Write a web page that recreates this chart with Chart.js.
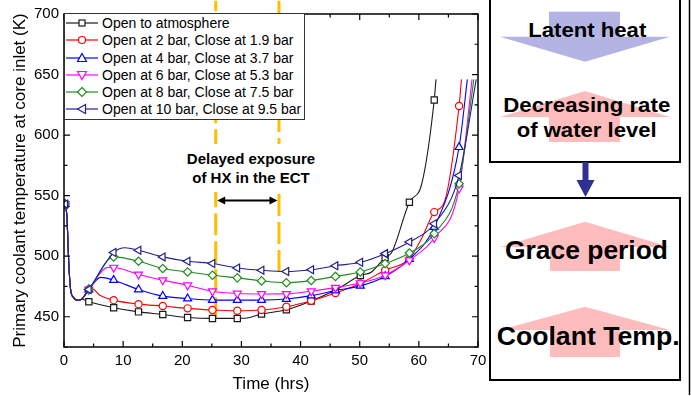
<!DOCTYPE html>
<html>
<head>
<meta charset="utf-8">
<script src="https://cdn.jsdelivr.net/npm/chart.js@4.4.1/dist/chart.umd.min.js"></script>
<style>
  html, body { margin: 0; padding: 0; background: #fff; }
  #wrap { position: relative; width: 691px; height: 396px; overflow: hidden; font-family: 'Liberation Sans', Arial, sans-serif; }
  #chart { position: absolute; left: 0; top: 0; }
  #legend { position: absolute; left: 64px; top: 13px; width: 241px; height: 107px; box-sizing: border-box;
            border: 1px solid #333; background: #fff; padding-top: 0.7px; }
  .row { display: flex; align-items: center; height: 17.2px; font-size: 14px; color: #000; white-space: nowrap; }
  .row svg { margin-left: 1px; margin-right: 4px; flex: none; }
  #note { position: absolute; left: 180px; top: 143.5px; width: 142px; padding: 5px 0; background: #fff;
          text-align: center; font-weight: bold; font-size: 15px; line-height: 19px; color: #000; }
  #panel { position: absolute; left: 484px; top: 0; }
</style>
</head>
<body>
<div id="wrap">
  <canvas id="chart" width="691" height="396"></canvas>
  <div id="legend"></div>
  <div id="note">Delayed exposure<br>of HX in the ECT</div>
  <svg id="panel" width="207" height="396" viewBox="484 0 207 396" font-family="'Liberation Sans', Arial, sans-serif" font-weight="bold">
    <rect x="490" y="-5" width="190" height="167" fill="#fff" stroke="#000" stroke-width="2"/>
    <rect x="549" y="11.7" width="71" height="25" fill="#b4b4e4"/>
    <polygon points="500,36.7 670,36.7 585,61.7" fill="#b4b4e4"/>
    <polygon points="585,91 670,117 500,117" fill="#ffbcbc"/>
    <rect x="549" y="117" width="71" height="25" fill="#ffbcbc"/>
    <text x="528.3" y="37" font-size="21" textLength="118" lengthAdjust="spacingAndGlyphs">Latent heat</text>
    <text x="503.3" y="112" font-size="21" textLength="167" lengthAdjust="spacingAndGlyphs">Decreasing rate</text>
    <text x="516.7" y="137" font-size="21" textLength="140" lengthAdjust="spacingAndGlyphs">of water level</text>

    <rect x="582.5" y="162" width="6" height="19" fill="#2e3192"/>
    <polygon points="576.5,180 594.5,180 585.5,197" fill="#2e3192"/>

    <rect x="490" y="198" width="190" height="182" fill="#fff" stroke="#000" stroke-width="2"/>
    <polygon points="585,221.7 670,247 500,247" fill="#ffbcbc"/>
    <rect x="550" y="247" width="70" height="24" fill="#ffbcbc"/>
    <polygon points="585,306.7 670,330 500,330" fill="#ffbcbc"/>
    <rect x="550" y="330" width="70" height="27" fill="#ffbcbc"/>
    <text x="505" y="259" font-size="26" textLength="163" lengthAdjust="spacingAndGlyphs">Grace period</text>
    <text x="496.7" y="345" font-size="26" textLength="183" lengthAdjust="spacingAndGlyphs">Coolant Temp.</text>

    <line x1="689.5" y1="0" x2="689.5" y2="395" stroke="#000" stroke-width="1.5"/>
  </svg>
</div>
<script>
// common initial transient (hrs, K)
const startTime = [0.2, 0.5, 0.8, 1.1, 1.6, 2.3, 3.0];
const startTemp = [543, 532, 495, 473, 466, 463.5, 464.5];

// times where markers are shown
const markTimes = [0.2, 4.2, 8.4, 12.6, 16.7, 20.9, 25.1, 29.3, 33.4, 37.6, 41.8, 45.9, 50.1, 54.3, 58.4, 62.6, 66.8];

const atmTime = [4.2, 8.4, 12.6, 16.7, 20.9, 25.1, 29.3, 31.0, 33.4, 37.6, 41.8, 45.9, 50.1, 52.0, 54.3, 55.4, 58.4, 60.5, 62.6, 62.9];
const atmTemp = [462.3, 457.4, 454.0, 451.9, 449.4, 448.6, 448.6, 449.0, 452.2, 455.7, 463.0, 472.0, 484.0, 487.0, 499.0, 503.0, 544.6, 560.0, 629.0, 646.0];

const bar2Time = [4.2, 4.8, 6.0, 8.4, 12.6, 16.7, 20.9, 25.1, 29.3, 33.4, 37.6, 41.8, 45.9, 50.1, 54.3, 58.4, 60.5, 62.6, 64.4, 66.8, 67.2];
const bar2Temp = [472.5, 473.0, 468.0, 463.7, 460.4, 458.8, 456.9, 455.5, 454.9, 455.5, 458.2, 463.2, 469.6, 477.5, 488.4, 498.0, 515.0, 536.4, 546.0, 624.0, 646.0];

const bar4Time = [4.2, 6.2, 8.4, 12.6, 16.7, 20.9, 25.1, 29.3, 33.4, 37.6, 41.8, 45.9, 50.1, 54.3, 58.4, 62.6, 66.8, 68.2];
const bar4Temp = [472.5, 482.5, 480.2, 472.5, 467.0, 465.0, 463.7, 463.7, 463.7, 464.6, 467.4, 471.6, 475.5, 483.3, 497.5, 524.0, 590.0, 646.0];

const bar6Time = [4.2, 7.4, 8.4, 12.6, 16.7, 20.9, 25.1, 29.3, 33.4, 37.6, 41.8, 45.9, 50.1, 54.3, 58.4, 62.6, 66.8, 69.0];
const bar6Temp = [472.5, 490.6, 490.6, 484.9, 480.2, 476.0, 471.1, 469.2, 468.8, 468.9, 471.1, 474.0, 477.8, 484.3, 496.6, 515.0, 556.0, 646.0];

const bar8Time = [4.2, 8.4, 12.6, 16.7, 20.9, 25.1, 29.3, 33.4, 37.6, 41.8, 45.9, 50.1, 54.3, 58.4, 62.6, 66.8, 69.3];
const bar8Temp = [472.5, 499.4, 495.8, 489.8, 487.0, 484.3, 482.1, 479.6, 478.1, 479.9, 483.3, 487.0, 493.9, 502.6, 518.6, 559.8, 646.0];

const bar10Time = [4.2, 8.4, 10.3, 12.6, 16.7, 20.9, 25.1, 29.3, 33.4, 37.6, 41.8, 45.9, 50.1, 54.3, 58.4, 62.6, 66.8, 69.7];
const bar10Temp = [472.5, 503.0, 507.0, 504.9, 499.4, 495.8, 493.9, 490.3, 488.4, 487.3, 488.8, 492.1, 495.0, 502.1, 511.7, 526.8, 566.6, 646.0];

const seriesNames = [
  'Open to atmosphere',
  'Open at 2 bar, Close at 1.9 bar',
  'Open at 4 bar, Close at 3.7 bar',
  'Open at 6 bar, Close at 5.3 bar',
  'Open at 8 bar, Close at 7.5 bar',
  'Open at 10 bar, Close at 9.5 bar'
];

// delayed exposure window (hrs) and where the dashed lines stop (K)
const delayTimes = [25.65, 36.35];
const delayBottoms = [448, 487];
const arrowLevel = 546;

const xTicks = [0, 10, 20, 30, 40, 50, 60, 70];
const yTicks = [450, 500, 550, 600, 650, 700];

const colors = ['#1a1a1a', '#ff0000', '#0000ff', '#ff00ff', '#1e8c1e', '#20208c'];
const styles = ['rect', 'circle', 'triangle', 'triangle', 'rectRot', 'triangle'];
const rotations = [0, 0, 0, 180, 0, 270];
const radii = [4.4, 3.6, 4.6, 4.6, 4.2, 4.6];

const allTimes = [atmTime, bar2Time, bar4Time, bar6Time, bar8Time, bar10Time];
const allTemps = [atmTemp, bar2Temp, bar4Temp, bar6Temp, bar8Temp, bar10Temp];

const isMark = x => markTimes.some(m => Math.abs(m - x) < 0.01);

const datasets = seriesNames.map((name, i) => {
  const t = startTime.concat(allTimes[i]);
  const v = startTemp.concat(allTemps[i]);
  return {
    label: name,
    data: t.map((x, k) => ({x: x, y: v[k]})),
    borderColor: colors[i],
    borderWidth: 1.1,
    pointStyle: styles[i],
    pointRotation: rotations[i],
    pointRadius: c => isMark(c.raw.x) ? radii[i] : 0,
    pointBorderColor: colors[i],
    pointBackgroundColor: '#fff',
    pointBorderWidth: 1.2,
    cubicInterpolationMode: 'monotone',
    order: 5 - i
  };
});

delayTimes.forEach((dt, i) => {
  datasets.push({
    label: 'delay' + i,
    data: [{x: dt, y: delayBottoms[i]}, {x: dt, y: 711}],
    borderColor: '#ffbf00',
    borderWidth: 3,
    borderDash: [22, 6],
    pointRadius: 0,
    tension: 0,
    clip: false,
    order: 20
  });
});

// legend with line + marker samples
const legend = document.getElementById('legend');
const markSvg = [
  '<rect x="13" y="3" width="6" height="6"/>',
  '<circle cx="16" cy="6" r="3.5"/>',
  '<polygon points="16,1.5 20.5,9.5 11.5,9.5"/>',
  '<polygon points="16,10.5 20.5,2.5 11.5,2.5"/>',
  '<polygon points="16,1.5 20.5,6 16,10.5 11.5,6"/>',
  '<polygon points="11.5,6 19.5,1.5 19.5,10.5"/>'
];
seriesNames.forEach((name, i) => {
  const row = document.createElement('div');
  row.className = 'row';
  row.innerHTML = '<svg width="32" height="12"><line x1="0" y1="6" x2="32" y2="6" stroke="' + colors[i] +
    '" stroke-width="1.2"/><g fill="#fff" stroke="' + colors[i] + '" stroke-width="1.2">' + markSvg[i] +
    '</g></svg><span>' + name + '</span>';
  legend.appendChild(row);
});

const framePlugin = {
  id: 'frame',
  afterDatasetsDraw(chart) {
    const {ctx, chartArea: a, scales: {x, y}} = chart;
    ctx.save();
    ctx.strokeStyle = '#000';
    ctx.lineWidth = 1.5;
    ctx.strokeRect(a.left, a.top, a.right - a.left, a.bottom - a.top);
    ctx.lineWidth = 1.2;
    ctx.beginPath();
    for (let v = 0; v <= 70; v += 5) {
      const px = x.getPixelForValue(v);
      const len = v % 10 === 0 ? 6 : 3.5;
      ctx.moveTo(px, a.bottom); ctx.lineTo(px, a.bottom - len);
      ctx.moveTo(px, a.top); ctx.lineTo(px, a.top + len);
    }
    for (let v = 425; v <= 700; v += 25) {
      const py = y.getPixelForValue(v);
      const len = v % 50 === 0 ? 6 : 3.5;
      ctx.moveTo(a.left, py); ctx.lineTo(a.left + len, py);
      ctx.moveTo(a.right, py); ctx.lineTo(a.right - len, py);
    }
    ctx.stroke();

    // double arrow between the dashed lines
    const x1 = x.getPixelForValue(delayTimes[0]) + 1.5;
    const x2 = x.getPixelForValue(delayTimes[1]) - 1.5;
    const ay = y.getPixelForValue(arrowLevel);
    ctx.lineWidth = 2;
    ctx.beginPath();
    ctx.moveTo(x1 + 5, ay); ctx.lineTo(x2 - 5, ay);
    ctx.stroke();
    ctx.fillStyle = '#000';
    ctx.beginPath();
    ctx.moveTo(x1, ay); ctx.lineTo(x1 + 8, ay - 4); ctx.lineTo(x1 + 8, ay + 4); ctx.closePath();
    ctx.moveTo(x2, ay); ctx.lineTo(x2 - 8, ay - 4); ctx.lineTo(x2 - 8, ay + 4); ctx.closePath();
    ctx.fill();
    ctx.restore();
  }
};

Chart.defaults.font.family = "'Liberation Sans', Arial, sans-serif";
Chart.defaults.color = '#000';

new Chart(document.getElementById('chart'), {
  type: 'line',
  data: {datasets: datasets},
  options: {
    responsive: false,
    animation: false,
    layout: {padding: {top: 13, right: 213, left: 0, bottom: 0}},
    plugins: {legend: {display: false}, tooltip: {enabled: false}},
    scales: {
      x: {
        type: 'linear',
        min: 0,
        max: 70,
        grid: {display: false, drawTicks: false},
        border: {display: false},
        ticks: {font: {size: 15}, padding: 5},
        afterBuildTicks: s => { s.ticks = xTicks.map(v => ({value: v})); },
        afterFit: s => { s.height = 49; },
        title: {display: true, text: 'Time (hrs)', font: {size: 17}, padding: {top: 0, bottom: 1}}
      },
      y: {
        min: 425,
        max: 700,
        grid: {display: false, drawTicks: false},
        border: {display: false},
        ticks: {font: {size: 15}, padding: 5},
        afterBuildTicks: s => { s.ticks = yTicks.map(v => ({value: v})); },
        afterFit: s => { s.width = 64; },
        title: {display: true, text: 'Primary coolant temperature at core inlet (K)', font: {size: 17}, padding: {top: 10, bottom: 0}}
      }
    }
  },
  plugins: [framePlugin]
});
</script>
</body>
</html>
